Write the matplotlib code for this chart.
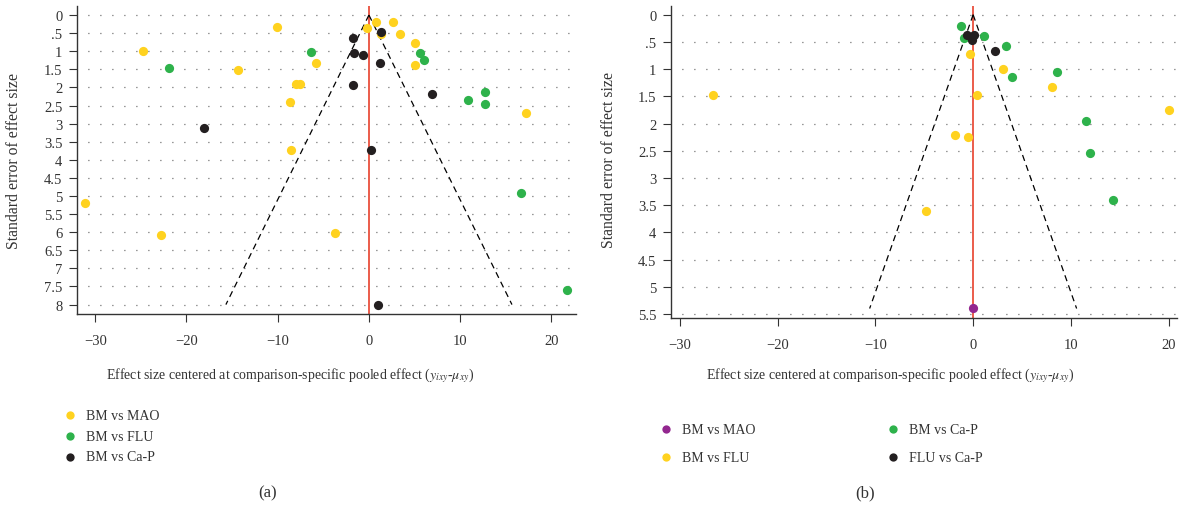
import numpy as np
import matplotlib
matplotlib.use("Agg")
import matplotlib.pyplot as plt
from matplotlib.ticker import FuncFormatter

plt.rcParams["font.family"] = ["Liberation Serif", "DejaVu Serif"]
plt.rcParams["mathtext.fontset"] = "stix"

# (a) effect sizes (centered) and standard errors per comparison
a_mao_x = [-10.1, -24.8, -14.4, -7.95, -7.55, -8.7, -8.5, -31.1, -22.8, -0.26,
           0.8, 2.6, 1.3, 3.4, 5.1, -5.8, 5.1, 17.2, -3.7]
a_mao_se = [0.33, 0.99, 1.53, 1.90, 1.90, 2.39, 3.72, 5.18, 6.09, 0.36,
            0.20, 0.20, 0.52, 0.53, 0.76, 1.33, 1.38, 2.70, 6.02]
a_flu_x = [-21.9, -6.4, 5.55, 6.0, 12.75, 10.9, 12.75, 16.7, 21.7]
a_flu_se = [1.46, 1.02, 1.05, 1.23, 2.13, 2.36, 2.46, 4.92, 7.60]
a_cap_x = [-18.1, 1.27, -1.76, -1.65, -0.66, 1.2, -1.76, 6.9, 0.2, 0.95]
a_cap_se = [3.13, 0.46, 0.64, 1.04, 1.10, 1.33, 1.94, 2.19, 3.72, 8.01]

# (b)
b_mao_x = [0.03]
b_mao_se = [5.39]
b_flu_x = [-26.6, -0.31, 3.1, 8.1, 0.44, 20.06, -1.9, -0.55, -4.84]
b_flu_se = [1.47, 0.72, 0.99, 1.33, 1.47, 1.75, 2.21, 2.24, 3.60]
b_cap_x = [-1.2, -0.9, 1.1, 3.4, 8.6, 4.0, 11.5, 12.0, 14.3]
b_cap_se = [0.21, 0.43, 0.39, 0.58, 1.06, 1.15, 1.95, 2.54, 3.40]
b_flucap_x = [-0.65, 0.05, -0.15, 2.2]
b_flucap_se = [0.38, 0.38, 0.46, 0.66]

# largest standard error covered by the pseudo 95% funnel
a_se_max = 8.0
b_se_max = 5.4

YELLOW = "#FFD21F"
GREEN = "#2EB24B"
BLACK = "#231F20"
PURPLE = "#93278F"
RED = "#E8412C"
INK = "#333333"

W, H = 1180, 506
fig = plt.figure(figsize=(W / 100, H / 100), dpi=100)
axA = fig.add_axes([77 / W, 1 - 315 / H, (576 - 77) / W, (315 - 7) / H])
axB = fig.add_axes([671 / W, 1 - 319.3 / H, (1177 - 671) / W, (319.3 - 7) / H])


def se_fmt(v, pos):
    s = "%g" % v
    return s[1:] if s.startswith("0.") else s


def style_axes(ax, xlim, ylim, se_max, tick_max, lab_x, lab_y):
    ax.set_xlim(*xlim)
    ax.set_ylim(*ylim)
    ax.set_yticks(np.arange(0, tick_max + 0.01, 0.5))
    ax.set_xticks([-30, -20, -10, 0, 10, 20])
    ax.yaxis.set_major_formatter(FuncFormatter(se_fmt))
    for side in ["top", "right"]:
        ax.spines[side].set_visible(False)
    for side in ["left", "bottom"]:
        ax.spines[side].set_color(INK)
        ax.spines[side].set_linewidth(1.0)
    ax.tick_params(direction="out", length=5.5, width=0.8, color=INK,
                   labelsize=10.5, labelcolor=INK)
    ax.tick_params(axis="y", pad=5)
    ax.tick_params(axis="x", pad=9)
    # dotted horizontal guides at every tick
    ax.yaxis.grid(True, linestyle=(1.0, (1, 8.6)), color="#777777", lw=0.9)
    ax.set_axisbelow(True)
    ax.axvline(0, color=RED, lw=1.2, zorder=2)
    se = np.array([0, se_max])
    ax.plot(-1.96 * se, se, ls=(0, (5, 3.5)), color="black", lw=0.9, zorder=2)
    ax.plot(1.96 * se, se, ls=(0, (5, 3.5)), color="black", lw=0.9, zorder=2)
    ax.set_ylabel("Standard error of effect size", fontsize=11.3, color=INK)
    ax.yaxis.set_label_coords(lab_y[0], lab_y[1])
    ax.set_xlabel(r"Effect size centered at comparison-specific pooled effect ($y_{ixy}$-$\mu_{xy}$)",
                  fontsize=10, color=INK, va="center")
    ax.xaxis.set_label_coords(lab_x[0], lab_x[1])


kw = dict(s=44, linewidths=0, zorder=3)

axA.scatter(a_mao_x, a_mao_se, color=YELLOW, label="BM vs MAO", **kw)
axA.scatter(a_flu_x, a_flu_se, color=GREEN, label="BM vs FLU", **kw)
axA.scatter(a_cap_x, a_cap_se, color=BLACK, label="BM vs Ca-P", **kw)
style_axes(axA, (-32.0, 22.7), (8.26, -0.25), a_se_max, 8.0,
           (0.427, -0.198), (-0.11, 0.5))

axB.scatter(b_mao_x, b_mao_se, color=PURPLE, label="BM vs MAO", **kw)
axB.scatter(b_flu_x, b_flu_se, color=YELLOW, label="BM vs FLU", **kw)
axB.scatter(b_cap_x, b_cap_se, color=GREEN, label="BM vs Ca-P", **kw)
axB.scatter(b_flucap_x, b_flucap_se, color=BLACK, label="FLU vs Ca-P", **kw)
style_axes(axB, (-30.9, 20.85), (5.58, -0.16), b_se_max, 5.5,
           (0.433, -0.182), (-0.107, 0.511))

leg_kw = dict(frameon=False, fontsize=10, handlelength=0.6, handletextpad=0.85,
              borderpad=0, borderaxespad=0, markerscale=0.9)
for t in fig.legend(handles=axA.collections[:3], loc="upper left",
                    bbox_to_anchor=(66 / W, 1 - 410 / H), labelspacing=0.55,
                    **leg_kw).get_texts():
    t.set_color(INK)
for t in fig.legend(handles=axB.collections[:4], loc="upper left", ncol=2,
                    bbox_to_anchor=(662 / W, 1 - 424 / H), labelspacing=1.07,
                    columnspacing=9.6, **leg_kw).get_texts():
    t.set_color(INK)

fig.text(268 / W, 1 - 493 / H, "(a)", ha="center", va="center", fontsize=12, color=INK)
fig.text(865 / W, 1 - 493 / H, "(b)", ha="center", va="center", fontsize=12, color=INK)

fig.savefig("out.png", dpi=100)
